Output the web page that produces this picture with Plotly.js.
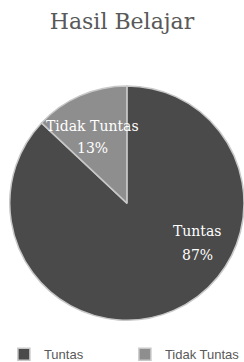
<!DOCTYPE html>
<html><head><meta charset="utf-8">
<script src="https://cdn.plot.ly/plotly-3.0.1.min.js"></script>
<style>html,body{margin:0;padding:0;background:#fff}#chart{width:244px;height:362px}</style>
</head><body><div id="chart"></div>
<script>
const categories = ["Tuntas", "Tidak Tuntas"];
const values = [87, 13];
const colors = ["#4a4a4a", "#8e8e8e"];
const titleText = "Hasil Belajar";

const W = 244, H = 362;
const total = values.reduce((a, b) => a + b, 0);
const pct = values.map(v => Math.round(100 * v / total) + "%");
// label anchor points (px)
const labelPos = [[197, 231, 255], [92, 126, 148]];

const annotations = [];
categories.forEach((c, i) => {
  const [px, py1, py2] = labelPos[i];
  const f = {family: "DejaVu Serif", size: 14, color: "#ffffff"};
  annotations.push({xref: "paper", yref: "paper", x: px / W, y: 1 - py1 / H, text: c, showarrow: false, font: f, xanchor: "center", yanchor: "middle"});
  annotations.push({xref: "paper", yref: "paper", x: px / W, y: 1 - py2 / H, text: pct[i], showarrow: false, font: f, xanchor: "center", yanchor: "middle"});
});

const data = [{
  type: "pie",
  labels: categories,
  values: values,
  sort: false,
  direction: "clockwise",
  rotation: 0,
  marker: {colors: colors, line: {color: "#c8c8c8", width: 1.5}},
  textinfo: "none",
  domain: {x: [0.04, 1], y: [0.113, 0.765]},
  hoverinfo: "none"
}];

const layout = {
  width: W, height: H,
  margin: {l: 0, r: 0, t: 0, b: 0, autoexpand: false},
  paper_bgcolor: "#ffffff",
  title: {text: titleText, font: {family: "DejaVu Serif", size: 22, color: "#595959"}, x: 0.5, xanchor: "center", y: 0.94, yanchor: "middle"},
  showlegend: true,
  annotations: annotations,
  legend: {orientation: "h", x: 0.016, xanchor: "left", y: -0.02, yanchor: "bottom",
    font: {family: "Liberation Sans", size: 13, color: "#595959"}, entrywidth: 76, entrywidthmode: "pixels", itemwidth: 30, tracegroupgap: 0}
};

Plotly.newPlot("chart", data, layout, {displayModeBar: false, staticPlot: true});
</script></body></html>
